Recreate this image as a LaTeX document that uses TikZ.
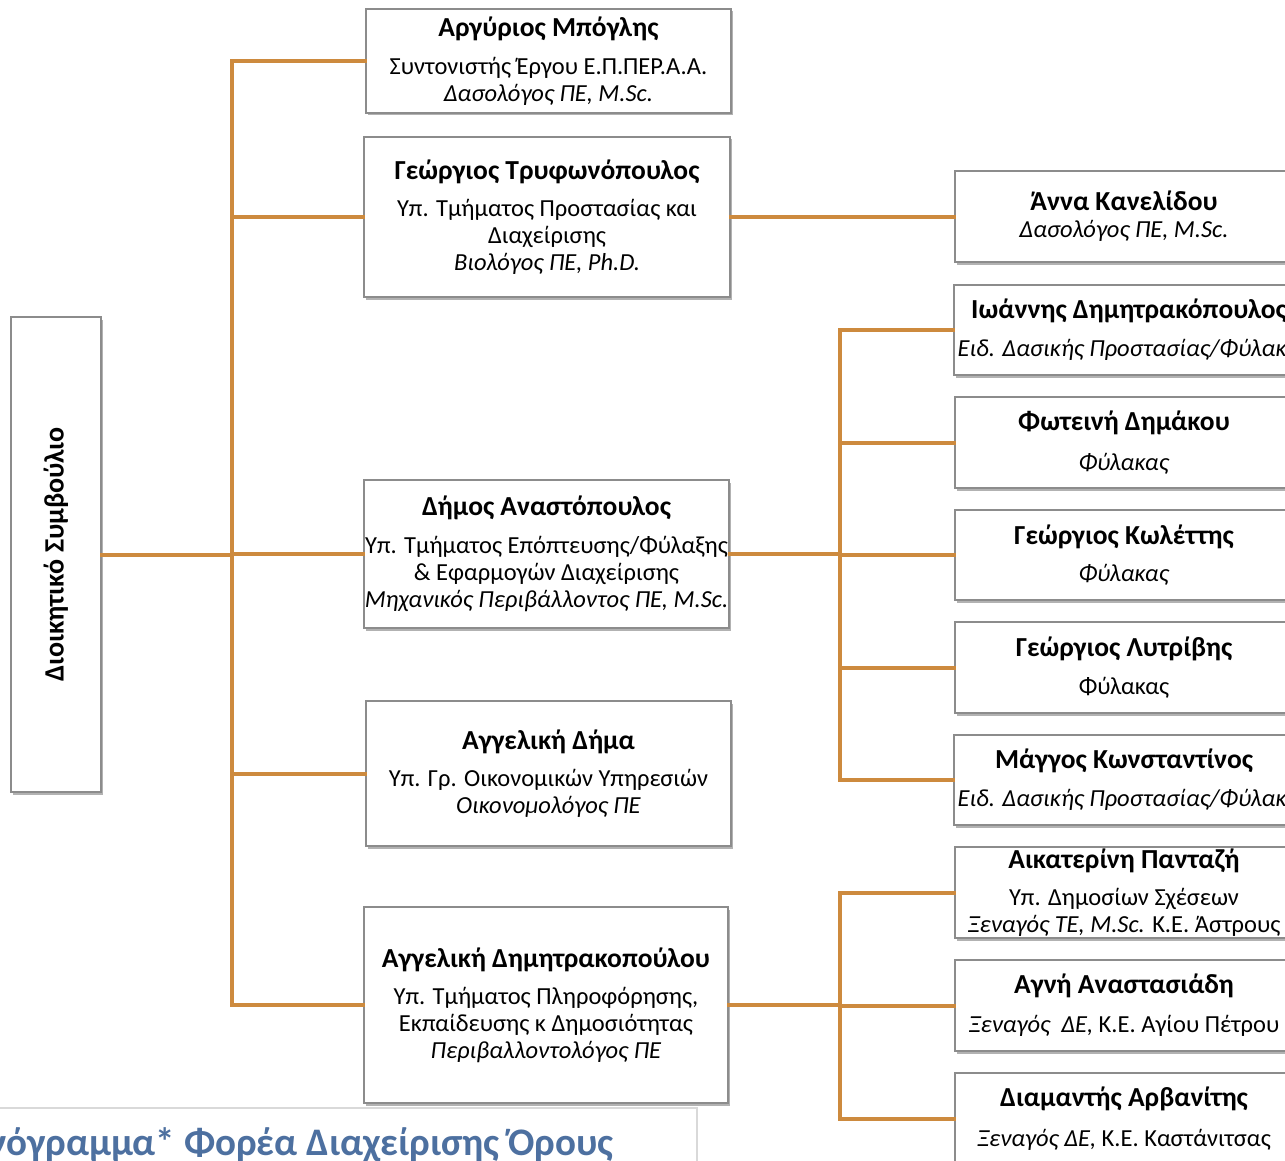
\documentclass[tikz,border=0pt]{standalone}
\usepackage{fontspec}
\setmainfont{Carlito}
\usetikzlibrary{shadows}
\definecolor{conncol}{HTML}{CD8A3E}
\definecolor{boxgray}{HTML}{8C8C8C}
\definecolor{titleblue}{HTML}{4D70A0}
\tikzset{
  box/.style={draw=boxgray, line width=1.3pt, fill=white, align=center, inner sep=0pt,
    drop shadow={shadow xshift=1.5pt, shadow yshift=-2.5pt, fill=black, opacity=0.3},
    font=\fontsize{24.5}{26.8}\selectfont},
  conn/.style={draw=conncol, line width=4pt, line cap=rect},
}
\newcommand{\nm}[1]{{\fontsize{27.5}{28}\selectfont\bfseries #1}}
\newcommand{\fitln}[1]{\makebox[320pt]{#1}}
\begin{document}
\begin{tikzpicture}[x=1pt,y=-1pt]
\useasboundingbox (0,0) rectangle (1285,1161);
\fill[white] (0,0) rectangle (1285,1161);

% title box (cut off)
\draw[draw=black!15, line width=1.2pt] (-5,1108) -- (697,1108) -- (697,1170);
\node[anchor=base east, text=titleblue, font=\fontsize{39}{40}\selectfont\bfseries, inner sep=0pt] (title) at (614,1155) {νόγραμμα* Φορέα Διαχείρισης Όρους};

% left box
\node[box, minimum width=90, minimum height=475] (ds) at (56,554.5) {};
\node[rotate=90, inner sep=0pt, font=\fontsize{28}{30}\selectfont\bfseries] (dslabel) at (ds.center) {Διοικητικό Συμβούλιο};

% middle column
\node[box, minimum width=365, minimum height=104] (arg) at (548.5,61)
  {\nm{Αργύριος Μπόγλης}\\[11pt] Συντονιστής Έργου Ε.Π.ΠΕΡ.Α.Α.\\ \textit{Δασολόγος ΠΕ, M.Sc.}};
\node[box, minimum width=366, minimum height=160] (tri) at (547,217)
  {\nm{Γεώργιος Τρυφωνόπουλος}\\[11pt] Υπ. Τμήματος Προστασίας και\\ Διαχείρισης\\ \textit{Βιολόγος ΠΕ, Ph.D.}};
\node[box, minimum width=365, minimum height=148] (ana) at (546.5,554)
  {\nm{Δήμος Αναστόπουλος}\\[11pt] \fitln{Υπ. Τμήματος Επόπτευσης/Φύλαξης}\\ \& Εφαρμογών Διαχείρισης\\ \textit{Μηχανικός Περιβάλλοντος ΠΕ, M.Sc.}};
\node[box, minimum width=365, minimum height=145] (dima) at (548.5,773.5)
  {\nm{Αγγελική Δήμα}\\[11pt] Υπ. Γρ. Οικονομικών Υπηρεσιών\\ \textit{Οικονομολόγος ΠΕ}};
\node[box, minimum width=364, minimum height=196] (dim) at (546,1005)
  {\nm{Αγγελική Δημητρακοπούλου}\\[11pt] Υπ. Τμήματος Πληροφόρησης,\\ Εκπαίδευσης κ Δημοσιότητας\\ \textit{Περιβαλλοντολόγος ΠΕ}};

% right column
\node[box, minimum width=338, minimum height=91] (anna) at (1124,216.5)
  {\nm{Άννα Κανελίδου}\\[0pt] \textit{Δασολόγος ΠΕ, M.Sc.}};
\node[box, minimum width=338, minimum height=90] (ioa) at (1124,330)
  {\hspace*{10pt}\fitln{\nm{Ιωάννης Δημητρακόπουλος}}\\[11pt] \hspace*{20pt}\fitln{\textit{Ειδ. Δασικής Προστασίας/Φύλακας}}};
\node[box, minimum width=338, minimum height=91] (fot) at (1124,442.5)
  {\nm{Φωτεινή Δημάκου}\\[13pt] \textit{Φύλακας}};
\node[box, minimum width=338, minimum height=90] (kol) at (1124,555)
  {\nm{Γεώργιος Κωλέττης}\\[11pt] \textit{Φύλακας}};
\node[box, minimum width=338, minimum height=91] (lyt) at (1124,667.5)
  {\nm{Γεώργιος Λυτρίβης}\\[12pt] Φύλακας};
\node[box, minimum width=338, minimum height=90] (mag) at (1124,780)
  {\nm{Μάγγος Κωνσταντίνος}\\[11pt] \hspace*{20pt}\fitln{\textit{Ειδ. Δασικής Προστασίας/Φύλακας}}};
\node[box, minimum width=338, minimum height=91] (pan) at (1124,892.5)
  {\nm{Αικατερίνη Πανταζή}\\[11pt] Υπ. Δημοσίων Σχέσεων\\ \fitln{\textit{Ξεναγός ΤΕ, M.Sc.} Κ.Ε. Άστρους}};
\node[box, minimum width=338, minimum height=91] (agn) at (1124,1005.5)
  {\nm{Αγνή Αναστασιάδη}\\[12pt] \fitln{\textit{Ξεναγός\ \ ΔΕ,} Κ.Ε. Αγίου Πέτρου}};
\node[box, minimum width=338, minimum height=91] (arv) at (1124,1118.5)
  {\nm{Διαμαντής Αρβανίτης}\\[13pt] \textit{Ξεναγός ΔΕ,} Κ.Ε. Καστάνιτσας};

% connectors: left trunk
\coordinate (tx) at (232,0);
\coordinate (rx) at (840,0);
\draw[conn] (ds.east) -- (ds.east -| tx);
\draw[conn] (arg.west -| tx) -- (dim.west -| tx);
\foreach \n in {arg,tri,ana,dima,dim} \draw[conn] (\n.west -| tx) -- (\n.west);

% Trifonopoulos to Anna
\draw[conn] (tri.east) -- (anna.west |- tri.east);

% Anastopoulos group
\draw[conn] (ana.east) -- (ana.east -| rx);
\draw[conn] (ioa.west -| rx) -- (mag.west -| rx);
\foreach \n in {ioa,fot,kol,lyt,mag} \draw[conn] (\n.west -| rx) -- (\n.west);

% Dimitrakopoulou group
\draw[conn] (dim.east) -- (dim.east -| rx);
\draw[conn] (pan.west -| rx) -- (arv.west -| rx);
\foreach \n in {pan,agn,arv} \draw[conn] (\n.west -| rx) -- (\n.west);
\end{tikzpicture}
\end{document}
